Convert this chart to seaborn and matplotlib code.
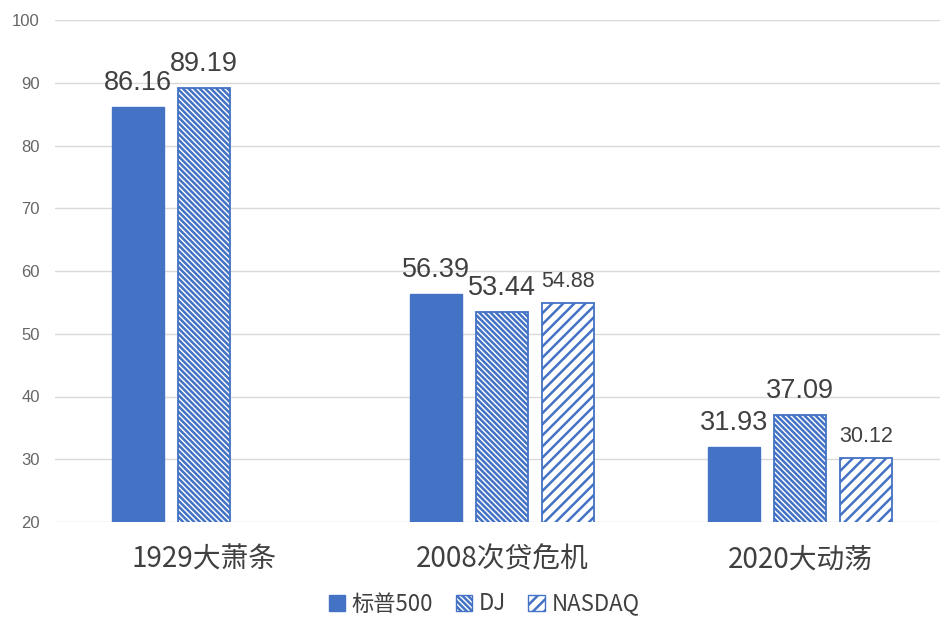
import matplotlib
matplotlib.use("Agg")
import matplotlib.pyplot as plt
import seaborn as sns
import pandas as pd
import numpy as np
from matplotlib.patches import Patch

categories = ["1929大萧条", "2008次贷危机", "2020大动荡"]
series = ["标普500", "DJ", "NASDAQ"]
sp500 = [86.16, 56.39, 31.93]
dj = [89.19, 53.44, 37.09]
nasdaq = [np.nan, 54.88, 30.12]
yticks = [20, 30, 40, 50, 60, 70, 80, 90, 100]

rows = []
for s, vals in zip(series, [sp500, dj, nasdaq]):
    for c, v in zip(categories, vals):
        rows.append({"cat": c, "series": s, "val": v})
df = pd.DataFrame(rows)

sns.set_theme(style="white")
plt.rcParams['font.family'] = ['Noto Sans CJK SC', 'DejaVu Sans']
plt.rcParams['hatch.linewidth'] = 1.8

BLUE = "#4472C4"
fig = plt.figure(figsize=(9.4, 6.18), dpi=100)
ax = fig.add_axes([55/940, 1-522/618, (940-55)/940, (522-20)/618])

sns.barplot(data=df, x="cat", y="val", hue="series", order=categories,
            hue_order=series, ax=ax, width=0.665, gap=0.21, legend=False,
            err_kws={'linewidth': 0})

hatches = [None, '\\' * 6, '///']
label_sizes = {(0, 0): 19.5, (1, 0): 19.5,
               (0, 1): 19.5, (1, 1): 19.5, (2, 1): 15.5,
               (0, 2): 19.5, (1, 2): 19.5, (2, 2): 15.5}
all_vals = [sp500, dj, nasdaq]
for i, cont in enumerate(ax.containers):
    for bar in cont:
        if i == 0:
            bar.set_facecolor(BLUE)
            bar.set_edgecolor(BLUE)
        else:
            bar.set_facecolor("white")
            bar.set_edgecolor(BLUE)
            bar.set_hatch(hatches[i])
            bar.set_linewidth(1.3)
        cx = bar.get_x() + bar.get_width() / 2
        j = int(round(cx))
        v = all_vals[i][j]
        if np.isnan(v):
            continue
        ax.annotate(f"{v:.2f}", (cx, v),
                    xytext=(0, 8), textcoords="offset points",
                    ha="center", va="bottom", color="#404040",
                    fontsize=label_sizes.get((i, j), 16),
                    family=['Liberation Sans'])

ax.set_ylim(20, 100)
ax.set_xlim(-0.5, 2.47)
ax.set_yticks(yticks)
ax.set_yticklabels([str(t) for t in yticks], color="#666666", fontsize=12,
                   family=['Liberation Sans'])
ax.yaxis.grid(True, color="#d9d9d9", linewidth=1)
ax.set_axisbelow(True)
for s in ax.spines.values():
    s.set_visible(False)
ax.tick_params(axis='y', length=0, pad=11)
ax.tick_params(axis='x', length=0, pad=16)
ax.set_xlabel("")
ax.set_ylabel("")
for lab in ax.get_xticklabels():
    lab.set_fontsize(20)
    lab.set_color("#404040")
    lab.set_fontweight("medium")

handles = [Patch(facecolor=BLUE, edgecolor=BLUE),
           Patch(facecolor="white", edgecolor=BLUE, hatch='\\' * 6),
           Patch(facecolor="white", edgecolor=BLUE, hatch='///')]
leg = fig.legend(handles, series, loc="center", bbox_to_anchor=(0.515, 1-604/618),
                 ncol=3, frameon=False, fontsize=16, handlelength=0.75,
                 handleheight=0.75, handletextpad=0.3, columnspacing=1.0)
for t in leg.get_texts():
    t.set_color("#404040")

fig.savefig("out.png", dpi=100)
